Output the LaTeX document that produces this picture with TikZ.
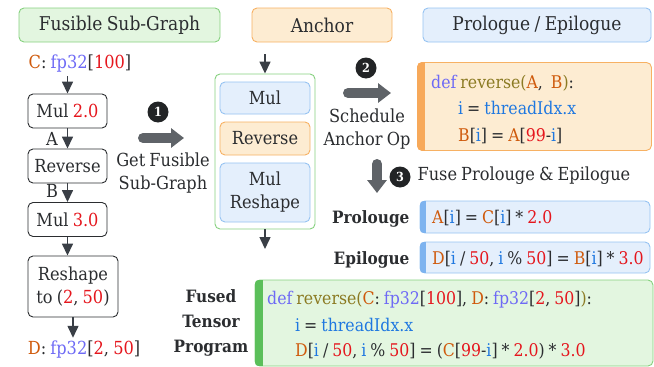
\documentclass[tikz,border=0pt]{standalone}
\usepackage{fontspec}
\setmainfont[FakeStretch=0.9, WordSpace=0.8]{DejaVu Serif}
\usetikzlibrary{arrows.meta}
\definecolor{txt}{HTML}{2B2D30}
\definecolor{gfill}{HTML}{E3F6E0}
\definecolor{gborder}{HTML}{86D17F}
\definecolor{gaccent}{HTML}{5BBF5A}
\definecolor{ofill}{HTML}{FDECD2}
\definecolor{oborder}{HTML}{F7B163}
\definecolor{oaccent}{HTML}{F7A95A}
\definecolor{bfill}{HTML}{E4EFFC}
\definecolor{bborder}{HTML}{96C3F2}
\definecolor{baccent}{HTML}{7DB3EF}
\definecolor{kwc}{HTML}{6E6AF5}
\definecolor{fnc}{HTML}{8B7A22}
\definecolor{varc}{HTML}{CF5A0C}
\definecolor{numc}{HTML}{E5161D}
\definecolor{idxc}{HTML}{1F78E0}
\definecolor{arrc}{HTML}{3A3F46}
\definecolor{bigc}{HTML}{5F6368}
\definecolor{dotc}{HTML}{222426}
\newcommand\ckw[1]{\textcolor{kwc}{#1}}
\newcommand\cfn[1]{\textcolor{fnc}{#1}}
\newcommand\cvar[1]{\textcolor{varc}{#1}}
\newcommand\cnum[1]{\textcolor{numc}{#1}}
\newcommand\cidx[1]{\textcolor{idxc}{#1}}
\tikzset{
  hdr/.style={draw, rounded corners=5, line width=0.9pt, minimum height=34, inner sep=0, font=\fontsize{19}{23}\selectfont},
  opbox/.style={draw=txt, rounded corners=5, line width=0.9pt, minimum width=79, minimum height=34, inner sep=0},
  inbox/.style={rounded corners=5, line width=0.9pt, minimum width=90, inner sep=0},
  codebox/.style={rounded corners=5, line width=0.9pt, inner sep=0},
  arr/.style={draw=arrc, line width=1.5pt, -{Triangle[length=12pt,width=11pt]}, fill=arrc},
  bigarr/.style={draw=bigc, line width=10pt, line cap=round, -{Triangle[length=13pt,width=19pt]}, fill=bigc},
  stepnum/.style={circle, fill=dotc, text=white, inner sep=0, minimum size=21, font=\fontsize{12.5}{12.5}\selectfont\bfseries},
  code/.style={anchor=base west, inner sep=0, font=\fontsize{17.5}{20}\selectfont},
  lbl/.style={font=\fontsize{17}{25}\selectfont\bfseries, align=center},
}
\begin{document}
\begin{tikzpicture}[x=1pt,y=-1pt, font=\fontsize{18}{23}\selectfont, text=txt]
\useasboundingbox (0,0) rectangle (654,367);

% headers
\node[hdr, fill=gfill, draw=gborder, minimum width=201] (h1) at (119.5,25) {Fusible Sub-Graph};
\node[hdr, fill=ofill, draw=oborder, minimum width=140] (h2) at (322,25) {Anchor};
\node[hdr, fill=bfill, draw=bborder, minimum width=228] (h3) at (537,25) {Prologue / Epilogue};

% left column
\node (cin) at (80,64) {\cvar{C}: \ckw{fp32}[\cnum{100}]};
\node[opbox] (m1) at (67.5,111) {Mul \cnum{2.0}};
\node[opbox] (rv) at (67.5,166) {Reverse};
\node[opbox] (m2) at (67.5,219.5) {Mul \cnum{3.0}};
\node[opbox, minimum width=90, minimum height=61, align=center] (rs) at (73,286.5) {Reshape\\to (\cnum{2}, \cnum{50})};
\node (dout) at (84,350) {\cvar{D}: \ckw{fp32}[\cnum{2}, \cnum{50}]};
\node (la) at (52,139) {A};
\node (lb) at (52,191) {B};
\draw[arr] (m1.north |- cin.south) -- (m1.north);
\draw[arr] (m1.south) -- (rv.north);
\draw[arr] (rv.south) -- (m2.north);
\draw[arr] (m2.south) -- (m2.south |- rs.north);
\draw[arr] (rs.south) -- (rs.south |- dout.north);

% step 1
\node[stepnum] (n1) at (158,112) {1};
\coordinate (a1s) at (143,138);
\coordinate (a1e) at (184,138);
\draw[bigarr] (a1s) -- (a1e);
\node[align=center] (t1) at (163,173) {Get Fusible\\Sub-Graph};

% anchor column
\node[draw=gborder, fill=white, rounded corners=5, line width=0.9pt, minimum width=100, minimum height=155, inner sep=0] (cont) at (265,151.5) {};
\node[inbox, fill=bfill, draw=bborder, minimum height=32] (am) at (265,98) {Mul};
\node[inbox, fill=ofill, draw=oborder, minimum height=33] (ar) at (265,138.5) {Reverse};
\node[inbox, fill=bfill, draw=bborder, minimum height=59, align=center] (amr) at (265,192.5) {Mul\\Reshape};
\coordinate (ancin) at (265,54);
\coordinate (ancout) at (265,249);
\draw[arr] (ancin) -- (cont.north);
\draw[arr] (cont.south) -- (ancout);

% step 2
\node[stepnum] (n2) at (366,68) {2};
\coordinate (a2s) at (348,93);
\coordinate (a2e) at (391,93);
\draw[bigarr] (a2s) -- (a2e);
\node[align=center] (t2) at (367,129) {Schedule\\Anchor Op};

% step 3
\coordinate (a3s) at (377,164);
\coordinate (a3e) at (377,193);
\draw[bigarr] (a3s) -- (a3e);
\node[stepnum] (n3) at (400,177) {3};
\node[anchor=west] (t3) at (414,176) {Fuse Prolouge \& Epilogue};

% reverse code box
\node[codebox, fill=ofill, draw=oborder, minimum width=234, minimum height=88, anchor=north west] (revbox) at (417,62) {};
\begin{scope}
\clip[rounded corners=5] (revbox.north west) rectangle (revbox.south east);
\fill[oaccent] (revbox.north west) rectangle ([xshift=8]revbox.south west);
\end{scope}
\node[code] (r1) at (431,88) {\ckw{def} \cfn{reverse(}\cvar{A},\ \ \cvar{B}\cfn{)}:};
\node[code] (r2) at (458,114) {\cidx{i} = \cidx{threadIdx.x}};
\node[code] (r3) at (458,141) {\cvar{B}[\cidx{i}] = \cvar{A}[\cnum{99}-\cidx{i}]};

% prologue
\node[codebox, fill=bfill, draw=bborder, minimum width=230, minimum height=32] (pbox) at (535,217) {};
\begin{scope}
\clip[rounded corners=5] (pbox.north west) rectangle (pbox.south east);
\fill[baccent] (pbox.north west) rectangle ([xshift=6]pbox.south west);
\end{scope}
\node[code] (ptxt) at (432,223) {\cvar{A}[\cidx{i}] = \cvar{C}[\cidx{i}] * \cnum{2.0}};
\node[lbl, anchor=base east] (plab) at (413,223) {Prolouge};

% epilogue
\node[codebox, fill=bfill, draw=bborder, minimum width=230, minimum height=31] (ebox) at (535,257.5) {};
\begin{scope}
\clip[rounded corners=5] (ebox.north west) rectangle (ebox.south east);
\fill[baccent] (ebox.north west) rectangle ([xshift=6]ebox.south west);
\end{scope}
\node[code] (etxt) at (432,264) {\cvar{D}[\cidx{i} / \cnum{50}, \cidx{i} \% \cnum{50}] = \cvar{B}[\cidx{i}] * \cnum{3.0}};
\node[lbl, anchor=base east] (elab) at (413,264) {Epilogue};

% fused
\node[codebox, fill=gfill, draw=gborder, minimum width=398, minimum height=86] (fbox) at (454,323) {};
\begin{scope}
\clip[rounded corners=5] (fbox.north west) rectangle (fbox.south east);
\fill[gaccent] (fbox.north west) rectangle ([xshift=8]fbox.south west);
\end{scope}
\node[code] (f1) at (267,304) {\ckw{def} \cfn{reverse(}\cvar{C}: \ckw{fp32}[\cnum{100}], \cvar{D}: \ckw{fp32}[\cnum{2}, \cnum{50}]\cfn{)}:};
\node[code] (f2) at (295,331) {\cidx{i} = \cidx{threadIdx.x}};
\node[code] (f3) at (295,356) {\cvar{D}[\cidx{i} / \cnum{50}, \cidx{i} \% \cnum{50}] = (\cvar{C}[\cnum{99}-\cidx{i}] * \cnum{2.0}) * \cnum{3.0}};
\node[lbl] (flab) at (211,323) {Fused\\Tensor\\Program};
\end{tikzpicture}
\end{document}
